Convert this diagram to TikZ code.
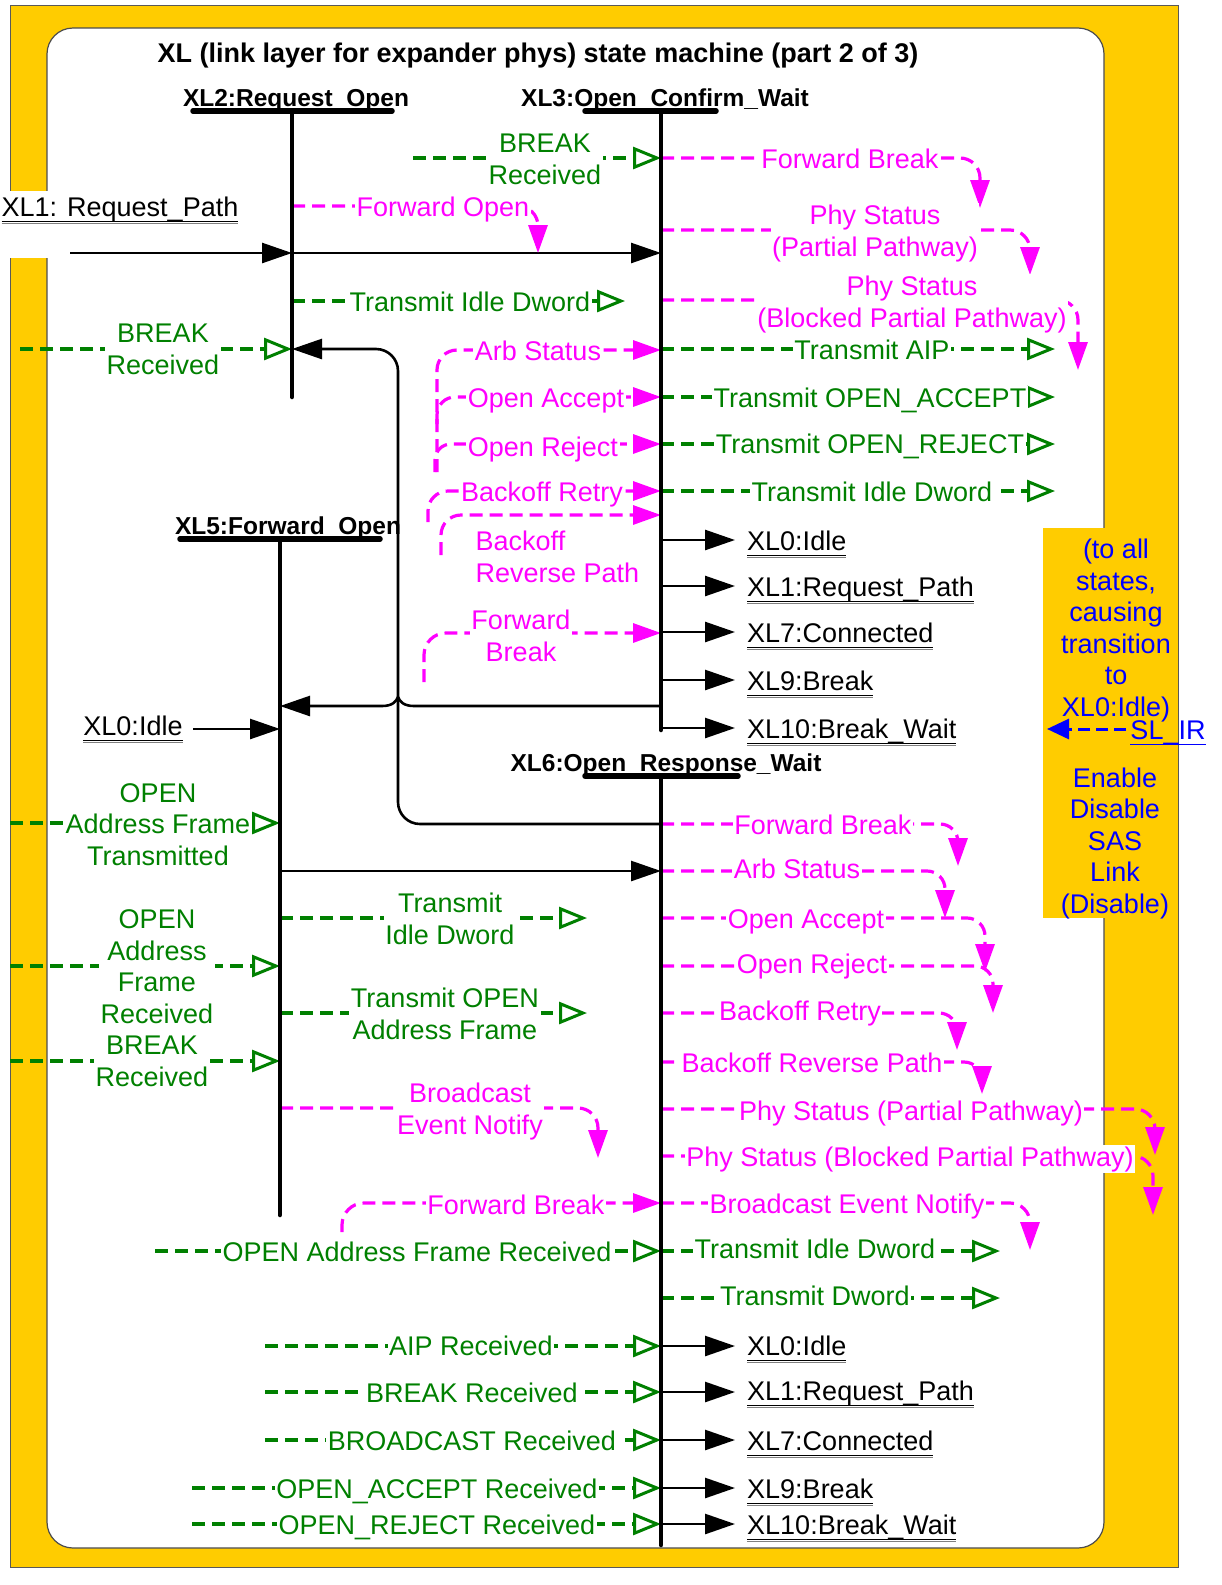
\documentclass[tikz,border=0pt]{standalone}
\usepackage{fontspec}
\setmainfont{Liberation Sans}
\usetikzlibrary{arrows.meta}
\definecolor{grn}{HTML}{008000}
\definecolor{mag}{HTML}{FF00FF}
\definecolor{ylw}{HTML}{FFCC00}
\definecolor{blu}{HTML}{0000FF}
\newcommand\fsz{\fontsize{27}{31.5}\selectfont}
\newcommand\bsz{\fontsize{24.5}{28}\selectfont\bfseries}
\newcommand\tsz{\fontsize{27}{31}\selectfont\bfseries}
\newcommand\lnk[1]{\setbox0\hbox{#1}\rlap{\rule[-6pt]{\wd0}{1.3pt}}\rlap{\color{gray}\rule[-8.3pt]{\wd0}{1.1pt}}\box0}
\newcommand\blnk[1]{\setbox0\hbox{#1}\rlap{\rule[-6pt]{\wd0}{1.3pt}}\box0}
\begin{document}
\begin{tikzpicture}[x=1pt,y=-1pt,
  gl/.style={draw=grn, line width=3.2pt, dash pattern=on 13pt off 7pt},
  ml/.style={draw=mag, line width=3.2pt, dash pattern=on 13pt off 7pt},
  ga/.style={gl, -{Triangle[open,length=28pt,width=22pt,line width=3pt]}},
  ma/.style={ml, -{Triangle[length=28pt,width=19pt]}},
  ba/.style={draw=black, line width=2.6pt, -{Triangle[length=30pt,width=20pt]}},
  stbar/.style={line width=5.5pt, line cap=round},
  stv/.style={line width=4.5pt, line cap=round},
  txt/.style={anchor=base, inner sep=1.5pt, fill=white, align=center, font=\fsz},
  gt/.style={txt, text=grn},
  mt/.style={txt, text=mag},
  lk/.style={anchor=base west, inner sep=1pt, font=\fsz, text=black},
  sn/.style={anchor=base, font=\bsz, inner sep=1pt},
  bt/.style={anchor=base, font=\fsz, text=blu, align=center, inner sep=1pt}
]
\useasboundingbox (0,0) rectangle (1221,1585);
\fill[white] (0,0) rectangle (1221,1585);
% frame
\fill[ylw] (10,5) rectangle (1178,1567);
\draw[gray!70!black, line width=1pt] (10,5) rectangle (1178,1567);
\draw[fill=white, draw=gray!60!black, line width=1.2pt, rounded corners=26] (47,28) rectangle (1104,1548);
\fill[white] (3,191) rectangle (48,258);
\fill[ylw] (1043,528) rectangle (1177.5,918);

% ---------- top section ----------
\draw[ga] (413,158) -- (661,158);
\draw[ma, rounded corners=20] (661,158) -| (980,208);
\draw[ba] (70,253) -- (292,253);
\draw[ba] (292,253) -- (661,253);
\draw[ma, rounded corners=20] (292,206) -| (538,253);
\draw[ma, rounded corners=20] (661,230) -| (1030,275);
\draw[ma, rounded corners=20] (661,300) -| (1078,370);
\draw[ga] (292,301) -- (625,301);
\draw[ga] (20,349) -- (292,349);
\draw[ba, rounded corners=22] (661,824) -| (398,349) -- (292,349);
\draw[ba] (661,706) -- (414,706) .. controls (404,706) and (400,702) .. (398,697) .. controls (396,702) and (392,706) .. (382,706) -- (280,706);
\draw[ga] (661,349) -- (1055,349);
\draw[ga] (661,397) -- (1055,397);
\draw[ga] (661,444) -- (1055,444);
\draw[ga] (661,491) -- (1055,491);
\draw[ma, rounded corners=20] (437,472) |- (661,350);
\draw[ma, rounded corners=18] (437,424) |- (661,397);
\draw[ma, rounded corners=16] (435,472) |- (661,444);
\draw[ma, rounded corners=20] (428,522) |- (661,491);
\draw[ma, rounded corners=20] (441,555) |- (661,515);
\draw[ma, rounded corners=22] (424,682) |- (661,633);
\foreach \yy in {540,586,632,680,728} \draw[ba] (661,\yy) -- (735,\yy);
\draw[ba] (193,729) -- (280,729);
\draw[blu, line width=3pt, dash pattern=on 12pt off 6pt, -{Triangle[length=22pt,width=20pt]}] (1126,729) -- (1047,729);

% ---------- XL5 / XL6 section ----------
\draw[ga] (10,823) -- (280,823);
\draw[ba] (280,871) -- (661,871);
\draw[ga] (280,918) -- (587,918);
\draw[ga] (10,966) -- (280,966);
\draw[ga] (280,1013) -- (587,1013);
\draw[ga] (10,1061) -- (280,1061);
\draw[ma, rounded corners=20] (280,1108) -| (598,1158);
\draw[ma, rounded corners=18] (661,824) -| (958,866);
\draw[ma, rounded corners=18] (661,871) -| (945,918);
\draw[ma, rounded corners=18] (661,918) -| (985,972);
\draw[ma, rounded corners=18] (661,966) -| (993,1013);
\draw[ma, rounded corners=18] (661,1013) -| (957,1050);
\draw[ma, rounded corners=18] (661,1062) -| (982,1094);
\draw[ma, rounded corners=20] (661,1109) -| (1155,1155);
\draw[ma, rounded corners=20] (661,1156) -| (1153,1215);
\draw[ma, rounded corners=20] (661,1203) -| (1030,1250);
\draw[ma, rounded corners=22] (342,1232) |- (661,1203);
\draw[ga] (155,1251) -- (661,1251);
\draw[ga] (661,1251) -- (1000,1251);
\draw[ga] (661,1298) -- (1000,1298);
\draw[ga] (265,1346) -- (661,1346);
\draw[ga] (265,1392) -- (661,1392);
\draw[ga] (265,1440) -- (661,1440);
\draw[ga] (192,1488) -- (661,1488);
\draw[ga] (192,1524) -- (661,1524);
\foreach \yy in {1346,1392,1440,1488,1524} \draw[ba] (661,\yy) -- (735,\yy);

% ---------- state bars ----------
\draw[stbar] (193,111) -- (392,111);
\draw[stv] (292,111) -- (292,397);
\draw[stbar] (585,111) -- (716,111);
\draw[stv] (661,111) -- (661,730);
\draw[stbar] (180,539) -- (380,539);
\draw[stv] (280,539) -- (280,1215);
\draw[stbar] (585,776) -- (738,776);
\draw[stv] (661,776) -- (661,1545);

% ---------- texts ----------
\node[anchor=base, font=\tsz] (title) at (538,62) {XL (link layer for expander phys) state machine (part 2 of 3)};
\node[sn] (s2) at (296,106) {XL2:Request\_Open};
\node[sn] (s3) at (665,106) {XL3:Open\_Confirm\_Wait};
\node[sn] (s5) at (288,534) {XL5:Forward\_Open};
\node[sn] (s6) at (666,771) {XL6:Open\_Response\_Wait};

\node[gt] (g1) at (545,184) {BREAK\\Received};
\node[mt] (m1) at (850,168) {Forward Break};
\node[anchor=base, font=\fsz, fill=white, inner sep=1pt] (x1) at (120,216) {\lnk{XL1: Request\_Path}};
\node[mt] (m2) at (443,216) {Forward Open};
\node[mt] (m3) at (875,256) {Phy Status\\(Partial Pathway)};
\node[mt] (m4) at (912,327) {Phy Status\\(Blocked Partial Pathway)};
\node[gt] (g2) at (470,311) {Transmit Idle Dword};
\node[gt] (g3) at (163,374) {BREAK\\Received};
\node[mt] (m5) at (538,360) {Arb Status};
\node[gt] (g4) at (872,359) {Transmit AIP};
\node[mt] (m6) at (546,407) {Open Accept};
\node[gt] (g5) at (870,407) {Transmit OPEN\_ACCEPT};
\node[mt] (m7) at (543,456) {Open Reject};
\node[gt] (g6) at (870,453) {Transmit OPEN\_REJECT};
\node[mt] (m8) at (542,501) {Backoff Retry};
\node[gt] (g7) at (872,501) {Transmit Idle Dword};
\node[mt, anchor=base west, align=left] (m9) at (474,582) {Backoff\\Reverse Path};
\node[mt] (m10) at (521,661) {Forward\\Break};
\node[lk] (r1) at (746,550) {\lnk{XL0:Idle}};
\node[lk] (r2) at (746,596) {\lnk{XL1:Request\_Path}};
\node[lk] (r3) at (746,642) {\lnk{XL7:Connected}};
\node[lk] (r4) at (746,690) {\lnk{XL9:Break}};
\node[lk] (r5) at (746,738) {\lnk{XL10:Break\_Wait}};
\node[anchor=base, font=\fsz, inner sep=1pt] (l0) at (133,735) {\lnk{XL0:Idle}};

\node[bt] (y1) at (1116,716) {(to all\\states,\\causing\\transition\\to\\XL0:Idle)};
\node[bt] (y2) at (1115,913) {Enable\\Disable\\SAS\\Link\\(Disable)};
\node[anchor=base, font=\fsz, text=blu, inner sep=1pt] (sl) at (1168,739) {\blnk{SL\_IR}};

\node[gt] (g8) at (158,865) {OPEN\\Address Frame\\Transmitted};
\node[gt] (g9) at (450,944) {Transmit\\Idle Dword};
\node[gt] (g10) at (157,1023) {OPEN\\Address\\Frame\\Received};
\node[gt] (g11) at (445,1039) {Transmit OPEN\\Address Frame};
\node[gt] (g12) at (152,1086) {BREAK\\Received};
\node[mt] (m11) at (470,1134) {Broadcast\\Event Notify};

\node[mt] (m12) at (823,834) {Forward Break};
\node[mt] (m13) at (797,878) {Arb Status};
\node[mt] (m14) at (806,928) {Open Accept};
\node[mt] (m15) at (812,973) {Open Reject};
\node[mt] (m16) at (800,1020) {Backoff Retry};
\node[mt] (m17) at (812,1072) {Backoff Reverse Path};
\node[mt] (m18) at (911,1120) {Phy Status (Partial Pathway)};
\node[mt] (m19) at (910,1166) {Phy Status (Blocked Partial Pathway)};
\node[mt] (m20) at (847,1213) {Broadcast Event Notify};
\node[mt] (m21) at (516,1214) {Forward Break};

\node[gt] (g13) at (417,1261) {OPEN Address Frame Received};
\node[gt] (g14) at (815,1258) {Transmit Idle Dword};
\node[gt] (g15) at (815,1305) {Transmit Dword};
\node[gt] (g16) at (471,1355) {AIP Received};
\node[gt] (g17) at (472,1402) {BREAK Received};
\node[gt] (g18) at (472,1450) {BROADCAST Received};
\node[gt] (g19) at (437,1498) {OPEN\_ACCEPT Received};
\node[gt] (g20) at (437,1534) {OPEN\_REJECT Received};
\node[lk] (b1) at (746,1355) {\lnk{XL0:Idle}};
\node[lk] (b2) at (746,1400) {\lnk{XL1:Request\_Path}};
\node[lk] (b3) at (746,1450) {\lnk{XL7:Connected}};
\node[lk] (b4) at (746,1498) {\lnk{XL9:Break}};
\node[lk] (b5) at (746,1534) {\lnk{XL10:Break\_Wait}};
\end{tikzpicture}
\end{document}
